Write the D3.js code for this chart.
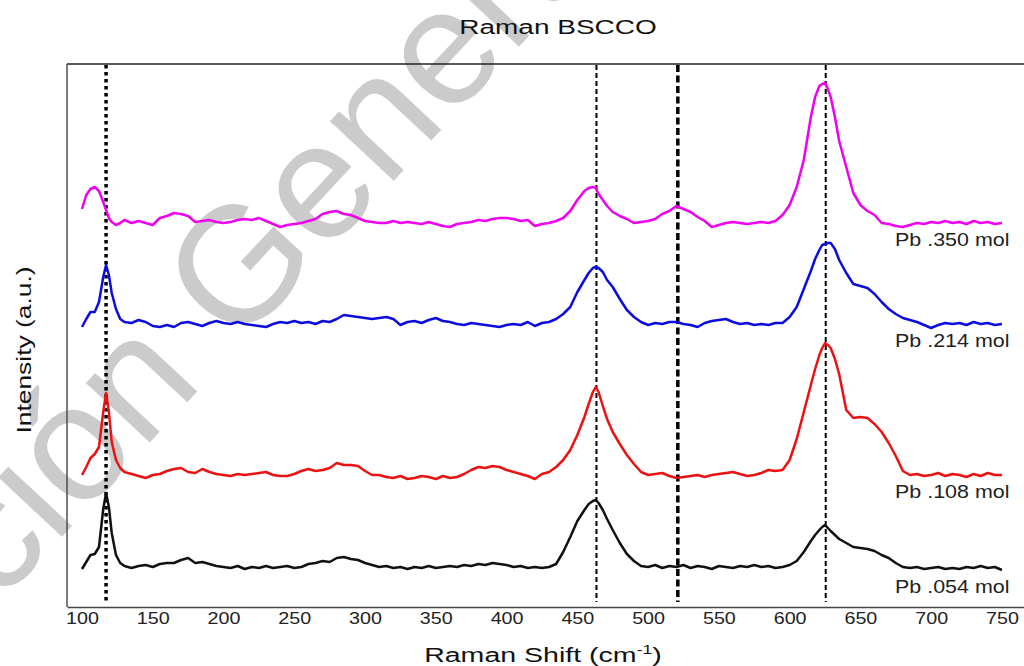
<!DOCTYPE html>
<html>
<head>
<meta charset="utf-8">
<script src="https://cdn.jsdelivr.net/npm/d3@7"></script>
<style>
  body { margin: 0; background: #fff; }
  text { font-family: "Liberation Sans", Arial, sans-serif; }
</style>
</head>
<body>
<svg id="chart" width="1024" height="666"></svg>
<script>

//=========== data (counts, a.u.) ===========//

var shifts = [100,103,106,109,112,115,117,119,121,124,127,130,
  135,140,145,150,155,160,165,170,175,180,
  185,190,195,200,205,210,215,220,225,230,
  235,240,245,250,255,260,265,270,275,280,
  285,290,295,300,305,310,315,320,325,330,
  335,340,345,350,355,360,365,370,375,380,
  385,390,395,400,405,410,415,420,425,430,
  435,440,445,450,
  455,458,461,463,465,468,471,475,
  480,485,490,495,500,505,510,515,520,525,530,535,540,545,550,555,560,565,570,575,580,585,590,595,600,605,610,615,
  618,621,623,625,627,629,632,635,
  640,645,650,655,660,665,670,675,680,685,690,695,700,705,710,715,720,725,730,735,740,745,750];

var pb054 = [38,45,52,53,60,98,114,100,74,52,44,41,
  39,41,42,40,43,44,44,47,49,44,
  45,43,41,40,39,41,38,40,39,41,
  39,40,41,39,40,43,44,46,45,49,
  50,48,47,44,42,40,41,39,40,38,
  40,39,41,39,40,41,40,42,41,43,
  42,44,43,42,40,41,39,40,39,40,
  43,55,70,86,
  97,103,106,107,104,97,88,77,
  64,53,46,41,40,42,39,41,40,42,39,41,40,38,41,40,39,41,40,42,40,41,39,40,42,46,55,66,
  72,77,80,82,79,76,72,68,
  64,60,59,58,56,52,49,44,40,39,40,38,39,40,38,39,38,40,39,41,39,40,37];

var pb108 = [132,140,149,153,160,195,214,195,165,147,139,135,
  133,131,129,132,133,136,138,139,135,134,
  138,135,133,132,131,133,132,133,134,135,
  132,131,131,133,136,138,136,137,139,144,
  142,142,141,136,132,132,130,129,131,128,
  129,131,130,128,131,129,130,133,137,140,
  139,141,140,137,135,133,131,128,133,135,
  140,147,157,172,
  190,203,215,220,215,201,188,175,
  163,152,143,135,132,133,134,131,129,130,131,132,130,132,133,134,135,133,131,132,134,137,136,137,147,168,195,222,
  238,252,259,264,262,259,248,233,
  197,189,190,189,183,175,164,151,136,132,133,131,132,134,131,133,132,130,133,131,134,132,132];

var pb214 = [280,288,295,295,305,330,342,332,314,298,288,285,
  284,287,285,281,280,282,280,284,285,283,
  281,284,286,284,283,285,283,282,281,280,
  283,285,284,286,284,285,283,286,285,288,
  292,291,290,289,288,289,290,288,282,285,
  286,284,287,289,286,285,283,282,284,283,
  282,281,280,282,283,282,285,281,284,285,
  288,293,300,315,
  327,334,339,340,339,335,327,320,
  308,297,290,285,282,284,283,285,285,283,282,280,284,286,287,288,285,283,284,282,283,282,284,284,290,300,318,336,
  348,357,362,363,364,364,358,347,
  334,323,321,319,313,305,298,293,289,287,285,282,279,282,284,283,284,282,285,283,284,282,283];

var pb350 = [398,412,418,420,416,405,397,389,385,382,384,387,
  384,386,384,382,389,391,394,393,391,385,
  386,387,385,384,385,387,388,387,389,386,
  383,380,382,383,384,386,388,393,395,396,
  393,392,389,386,385,384,384,386,384,385,
  384,383,385,383,381,380,383,384,385,387,
  386,388,389,389,388,386,387,381,383,384,
  386,389,396,407,
  416,419,420,419,413,407,401,395,
  391,388,384,385,386,388,393,396,401,398,395,390,386,380,382,384,385,384,383,384,385,384,386,392,402,420,447,490,
  510,521,523,524,518,510,490,466,
  440,414,402,396,392,384,383,381,380,382,384,383,385,384,386,384,385,383,386,384,385,383,384];

var seriesNames  = ["Pb .054 mol", "Pb .108 mol", "Pb .214 mol", "Pb .350 mol"];
var seriesValues = [pb054, pb108, pb214, pb350];
var seriesColors = ["#111111", "#ee1111", "#0c0ce0", "#f000f0"];

var xTicks = [100,150,200,250,300,350,400,450,500,550,600,650,700,750];

// peak marker lines (cm-1)
var refLines = [117, 463.5, 521, 625.5];
var refStyles = [
  {w: 3.5, dash: "3.5,3.5"},
  {w: 2,   dash: "5,3"},
  {w: 3.5, dash: "7,3.5"},
  {w: 2,   dash: "5,3"}
];


//=========== layout ===========//
var margin = {left: 67, right: 1024, top: 64, bottom: 607};

var svg = d3.select("#chart");

var x = d3.scaleLinear()
          .domain([89.4, 765.6])
          .range([margin.left, margin.right]);

var y = d3.scaleLinear()
          .domain([0, 543])
          .range([margin.bottom, margin.top]);


//=========== watermark (behind the data) ===========//
var wm = svg.append("g")
            .attr("transform", "translate(236,350) rotate(-47)")
            .style("fill", "#cbcbcb")
            .style("font-size", "165px");
wm.append("text").attr("x", -46).attr("text-anchor", "end").text("Colección");
wm.append("text").attr("x", 0).attr("text-anchor", "start").text("General");


//=========== frame ===========//
svg.append("line")
   .attr("x1", margin.left).attr("x2", margin.right)
   .attr("y1", margin.top).attr("y2", margin.top)
   .attr("stroke", "#222").attr("stroke-width", 1.6);

svg.append("line")
   .attr("x1", margin.left).attr("x2", margin.left)
   .attr("y1", margin.top).attr("y2", margin.bottom)
   .attr("stroke", "#444").attr("stroke-width", 1.4);

// x axis (no tick marks, just labels)
var xAxis = svg.append("g")
   .attr("transform", "translate(0," + margin.bottom + ")")
   .call(d3.axisBottom(x).tickValues(xTicks).tickSize(0).tickSizeOuter(0).tickPadding(5));

xAxis.select(".domain").attr("stroke", "#444").attr("stroke-width", 1.6);
xAxis.selectAll("text")
     .style("font-size", "17px")
     .style("font-family", "Liberation Sans, Arial, sans-serif")
     .attr("fill", "#222")
     .attr("transform", "scale(1.16,1)");


//=========== reference lines ===========//
svg.selectAll(".refline")
   .data(refLines)
   .enter()
   .append("line")
   .attr("class", "refline")
   .attr("x1", function(d){ return x(d); })
   .attr("x2", function(d){ return x(d); })
   .attr("y1", margin.top + 1)
   .attr("y2", margin.bottom - 5)
   .attr("stroke", "#000")
   .attr("stroke-width", function(d,i){ return refStyles[i].w; })
   .attr("stroke-dasharray", function(d,i){ return refStyles[i].dash; });


//=========== spectra ===========//
var line = d3.line()
             .x(function(d){ return x(d[0]); })
             .y(function(d){ return y(d[1]); });

seriesValues.forEach(function(vals, i){
    var pts = shifts.map(function(s, j){ return [s, vals[j]]; });
    svg.append("path")
       .attr("d", line(pts))
       .attr("fill", "none")
       .attr("stroke", seriesColors[i])
       .attr("stroke-width", 2.5)
       .attr("stroke-linejoin", "round");
});

// series labels under each curve end
var labelX = 895;
svg.selectAll(".slabel")
   .data(seriesNames)
   .enter()
   .append("text")
   .attr("class", "slabel")
   .attr("transform", function(d,i){
        var last = seriesValues[i][seriesValues[i].length - 1];
        return "translate(" + labelX + "," + (y(last) + 23) + ") scale(1.13,1)";
   })
   .style("font-size", "19px")
   .attr("fill", "#222")
   .text(function(d){ return d; });


//=========== titles ===========//
svg.append("text")
   .attr("transform", "translate(558,34) scale(1.4,1)")
   .attr("text-anchor", "middle")
   .style("font-size", "20px")
   .attr("fill", "#111")
   .text("Raman BSCCO");

var xl = svg.append("text")
   .attr("transform", "translate(543,662) scale(1.36,1)")
   .attr("text-anchor", "middle")
   .style("font-size", "21px")
   .attr("fill", "#111");
xl.append("tspan").text("Raman Shift (cm");
xl.append("tspan").attr("dy", -8).style("font-size", "13px").text("-1");
xl.append("tspan").attr("dy", 8).text(")");

svg.append("text")
   .attr("transform", "translate(31,350) rotate(-90) scale(1.32,1)")
   .attr("text-anchor", "middle")
   .style("font-size", "20px")
   .attr("fill", "#111")
   .text("Intensity (a.u.)");

</script>
</body>
</html>
